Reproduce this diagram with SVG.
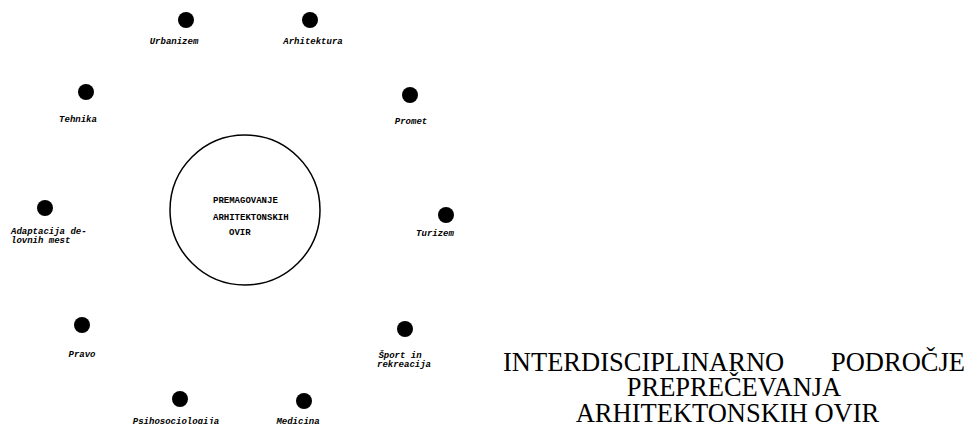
<svg xmlns="http://www.w3.org/2000/svg" width="968" height="424" viewBox="0 0 968 424">
<style>
.dot{fill:#000}
.lbl{font-family:"Liberation Mono","DejaVu Sans Mono",monospace;font-size:9px;font-weight:bold;font-style:italic;fill:#000}
.ctr{font-family:"Liberation Mono","DejaVu Sans Mono",monospace;font-size:9px;font-weight:bold;fill:#000}
.title{font-family:"Liberation Serif","DejaVu Serif",serif;font-size:26.5px;fill:#000}
</style>
<rect width="968" height="424" fill="#fff"/>
<g id="center">
<circle cx="245" cy="210" r="75" fill="none" stroke="#000" stroke-width="1.5"/>
<text class="ctr" x="213" y="203">PREMAGOVANJE</text>
<text class="ctr" x="213" y="220">ARHITEKTONSKIH</text>
<text class="ctr" x="229" y="235">OVIR</text>
</g>
<g id="connectors"></g>
<g id="urbanizem"><circle class="dot" cx="186" cy="20" r="8"/><text class="lbl" x="174" y="44" text-anchor="middle">Urbanizem</text></g>
<g id="arhitektura"><circle class="dot" cx="310" cy="20" r="8"/><text class="lbl" x="313" y="44" text-anchor="middle">Arhitektura</text></g>
<g id="tehnika"><circle class="dot" cx="86" cy="92" r="8"/><text class="lbl" x="78" y="122" text-anchor="middle">Tehnika</text></g>
<g id="promet"><circle class="dot" cx="410" cy="95" r="8"/><text class="lbl" x="411" y="124" text-anchor="middle">Promet</text></g>
<g id="turizem"><circle class="dot" cx="446" cy="215" r="8"/><text class="lbl" x="435" y="236" text-anchor="middle">Turizem</text></g>
<g id="adaptacija"><circle class="dot" cx="45" cy="208" r="8"/><text class="lbl" x="11" y="234">Adaptacija de-</text><text class="lbl" x="11" y="243">lovnih mest</text></g>
<g id="pravo"><circle class="dot" cx="82" cy="325" r="8"/><text class="lbl" x="82" y="357" text-anchor="middle">Pravo</text></g>
<g id="sport"><circle class="dot" cx="405" cy="329" r="8"/><text class="lbl" x="400" y="358" text-anchor="middle">Šport in</text><text class="lbl" x="404" y="367" text-anchor="middle">rekreacija</text></g>
<g id="psihosociologija"><circle class="dot" cx="180" cy="399" r="8"/><text class="lbl" x="176" y="424" text-anchor="middle">Psihosociologija</text></g>
<g id="medicina"><circle class="dot" cx="304" cy="401" r="8"/><text class="lbl" x="298" y="424" text-anchor="middle">Medicina</text></g>
<g id="title">
<text class="title" x="503" y="371">INTERDISCIPLINARNO</text>
<text class="title" x="965" y="371" text-anchor="end">PODROČJE</text>
<text class="title" x="734" y="396" text-anchor="middle">PREPREČEVANJA</text>
<text class="title" x="727.5" y="422" text-anchor="middle">ARHITEKTONSKIH OVIR</text>
</g>
</svg>
